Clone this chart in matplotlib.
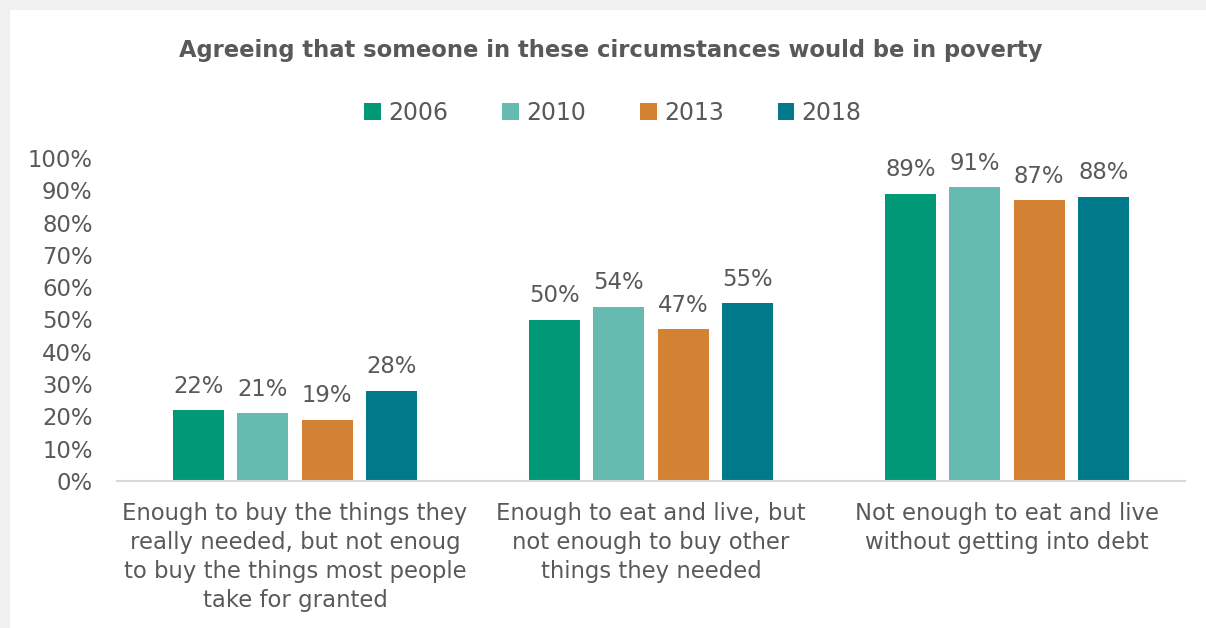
import numpy as np
import matplotlib.pyplot as plt
from matplotlib.patches import Rectangle

# survey results, % agreeing
categories = [
    "Enough to buy the things they\nreally needed, but not enoug\nto buy the things most people\ntake for granted",
    "Enough to eat and live, but\nnot enough to buy other\nthings they needed",
    "Not enough to eat and live\nwithout getting into debt",
]
years = ["2006", "2010", "2013", "2018"]
v2006 = [22, 50, 89]
v2010 = [21, 54, 91]
v2013 = [19, 47, 87]
v2018 = [28, 55, 88]
series = [v2006, v2010, v2013, v2018]
colors = ["#009877", "#66bbb0", "#d38233", "#007a8a"]

txt = "#595959"
plt.rcParams['font.family'] = ['DejaVu Sans']

fig = plt.figure(figsize=(12.06, 6.28), dpi=100)
fig.patch.set_facecolor("#f0f0f0")
# white chart area inside the light grey frame
fig.add_artist(Rectangle((10 / 1206, 0), 1 - 10 / 1206, 1 - 10 / 628,
                         transform=fig.transFigure, facecolor="white",
                         edgecolor="none", zorder=-5))

ax = fig.add_axes([117 / 1206, 1 - 481 / 628, (1185 - 117) / 1206, (481 - 158) / 628])
ax.set_facecolor("none")

x = np.arange(len(categories))
width = 0.143
step = 0.181
for i, (vals, yr, c) in enumerate(zip(series, years, colors)):
    pos = x + (i - 1.5) * step
    ax.bar(pos, vals, width, color=c, label=yr, zorder=2)
    for p, v in zip(pos, vals):
        ax.text(p, v + 3.8, f"{v}%", ha="center", va="bottom",
                fontsize=16.4, color=txt)

ax.set_xlim(-0.5, 2.5)
ax.set_ylim(0, 100)
ax.set_yticks(range(0, 101, 10))
ax.set_yticklabels([f"{t}%" for t in range(0, 101, 10)])
ax.set_xticks(x)
ax.set_xticklabels(categories, linespacing=1.33)
ax.tick_params(axis="both", length=0, labelsize=16.4, labelcolor=txt)
ax.tick_params(axis="y", pad=17.5)
ax.tick_params(axis="x", pad=15)
for s in ["top", "right", "left"]:
    ax.spines[s].set_visible(False)
ax.spines["bottom"].set_color("#d9d9d9")
ax.spines["bottom"].set_linewidth(1.5)

fig.text(611 / 1206, 1 - 50 / 628, "Agreeing that someone in these circumstances would be in poverty",
         ha="center", va="center", fontsize=16.3, fontweight="bold", color=txt)

leg = fig.legend(loc="center", bbox_to_anchor=(613 / 1206, 1 - 113 / 628), ncol=4,
                 frameon=False, fontsize=17, handlelength=0.7, handleheight=0.7,
                 handletextpad=0.3, columnspacing=2.3)
for t in leg.get_texts():
    t.set_color(txt)

fig.savefig("out.png", dpi=100, facecolor=fig.get_facecolor())
